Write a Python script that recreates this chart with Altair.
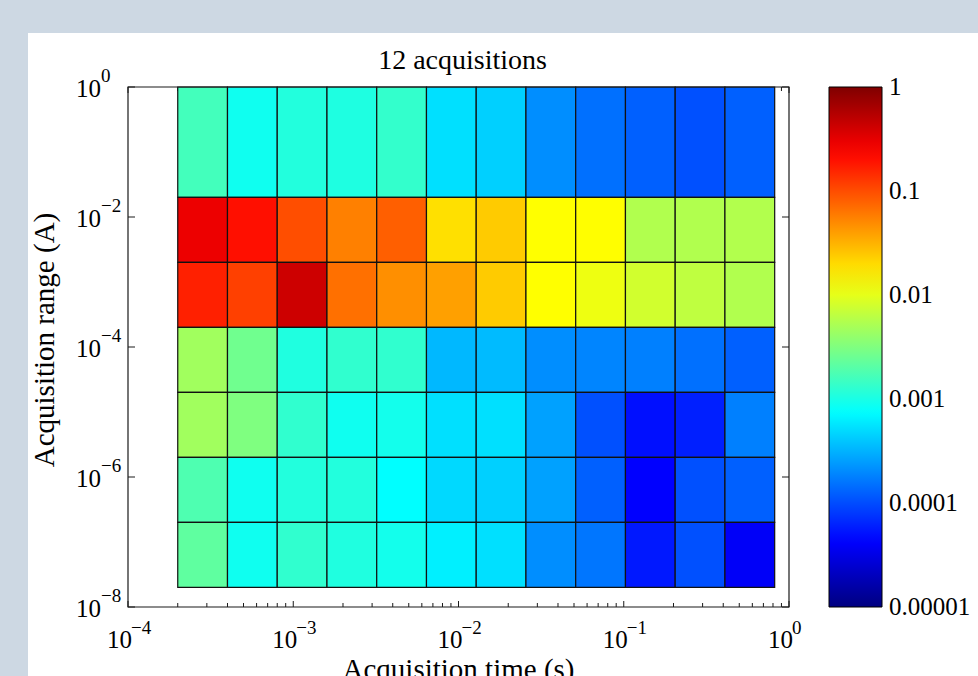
import altair as alt
import pandas as pd

# ---- data -------------------------------------------------------------
# cell edges (acquisition time in s, acquisition range in A)
x_edges = [0.0002, 0.0004, 0.0008, 0.0016, 0.0032, 0.0064, 0.0128,
           0.0256, 0.0512, 0.1024, 0.2048, 0.4096, 0.8192]
y_edges_top_down = [1.0, 2e-2, 2e-3, 2e-4, 2e-5, 2e-6, 2e-7, 2e-8]

# values per row, from the top row down, 12 columns each
row_0 = [1.6e-3, 8.9e-4, 1.1e-3, 1.05e-3, 1.33e-3, 5.3e-4, 4.4e-4, 2.1e-4, 1.5e-4, 1.25e-4, 1.04e-4, 1.25e-4]
row_1 = [0.29, 0.2, 0.098, 0.056, 0.081, 0.019, 0.024, 0.0133, 0.0135, 5.5e-3, 5.5e-3, 5.6e-3]
row_2 = [0.166, 0.115, 0.42, 0.067, 0.047, 0.039, 0.024, 0.0133, 0.011, 7.9e-3, 6.5e-3, 5.5e-3]
row_3 = [4.6e-3, 2.66e-3, 1.07e-3, 1.29e-3, 1.29e-3, 3.35e-4, 3.5e-4, 2.1e-4, 1.9e-4, 1.78e-4, 1.5e-4, 1.25e-4]
row_4 = [4.6e-3, 3.16e-3, 1.29e-3, 8.9e-4, 9.3e-4, 5.3e-4, 5.3e-4, 2.6e-4, 1.04e-4, 5.0e-5, 6.0e-5, 1.78e-4]
row_5 = [1.8e-3, 8.9e-4, 1.1e-3, 1.1e-3, 7.5e-4, 4.9e-4, 4.4e-4, 2.6e-4, 1.25e-4, 4.2e-5, 1.04e-4, 1.25e-4]
row_6 = [2.2e-3, 8.9e-4, 1.29e-3, 1.07e-3, 9.3e-4, 6.3e-4, 5.3e-4, 2.1e-4, 1.6e-4, 5.5e-5, 1.04e-4, 3.9e-5]
rows_top_down = [row_0, row_1, row_2, row_3, row_4, row_5, row_6]

# axis ticks and labels
x_major = [1e-4, 1e-3, 1e-2, 1e-1, 1.0]
x_exponents = ["\u22124", "\u22123", "\u22122", "\u22121", "0"]
x_minor = [m * d for d in [1e-4, 1e-3, 1e-2, 1e-1] for m in [2, 3, 4, 5, 6, 7, 8, 9]]
y_major = [1e-8, 1e-6, 1e-4, 1e-2, 1.0]
y_exponents = ["\u22128", "\u22126", "\u22124", "\u22122", "0"]
cbar_values = [1.0, 1e-1, 1e-2, 1e-3, 1e-4, 1e-5]
cbar_labels = ["1", "0.1", "0.01", "0.001", "0.0001", "0.00001"]
title_text = ["12 acquisitions"]
x_title = ["Acquisition time (s)"]
y_title = ["Acquisition range (A)"]

# jet colour map, stops placed in log space over 1e-5 .. 1
jet_domain = [1e-5, 4.217e-5, 7.499e-4, 0.013335, 0.23714, 1.0]
jet_colors = ["#000080", "#0000ff", "#00ffff", "#ffff00", "#ff0000", "#800000"]

# ---- tables -------------------------------------------------------------
recs = []
for i, row in enumerate(rows_top_down):
    for j, v in enumerate(row):
        recs.append({"x0": x_edges[j], "x1": x_edges[j + 1],
                     "y0": y_edges_top_down[i + 1], "y1": y_edges_top_down[i],
                     "v": v})
cells = pd.DataFrame(recs)
xmaj = pd.DataFrame({"t": x_major, "base": ["10"] * len(x_major), "e": x_exponents})
xmin = pd.DataFrame({"t": x_minor})
ymaj = pd.DataFrame({"t": y_major, "base": ["10"] * len(y_major), "e": y_exponents})
cbl = pd.DataFrame({"c": cbar_values, "lab": cbar_labels})
one = pd.DataFrame({"a": [0]})

W, H = 661, 520
FONT = "Liberation Serif"
INK = "#1a1a1a"
CB_X, CB_W = 701, 53

xscale = alt.Scale(type="log", domain=[1e-4, 1.0], nice=False)
yscale = alt.Scale(type="log", domain=[1e-8, 1.0], nice=False)
cbscale = alt.Scale(type="log", domain=[1e-5, 1.0], nice=False)
cscale = alt.Scale(type="log", domain=jet_domain, range=jet_colors, interpolate="rgb")

# white panel behind the figure
panel = alt.Chart(one).mark_rect(color="white").encode(
    x=alt.value(-100), x2=alt.value(850), y=alt.value(-54), y2=alt.value(H + 80)
)

def xr(df, y_a, y_b):
    return alt.Chart(df).mark_rule(color=INK, strokeWidth=1).encode(
        x=alt.X("t:Q", scale=xscale, axis=None), y=alt.value(y_a), y2=alt.value(y_b)
    )

def yr(df, x_a, x_b):
    return alt.Chart(df).mark_rule(color=INK, strokeWidth=1).encode(
        y=alt.Y("t:Q", scale=yscale, axis=None), x=alt.value(x_a), x2=alt.value(x_b)
    )

ticks = [
    xr(xmaj, H, H - 6), xr(xmin, H, H - 4),
    xr(xmaj, 0, 6), xr(xmin, 0, 4),
    yr(ymaj, 0, 7), yr(ymaj, W, W - 7),
]

heat = alt.Chart(cells).mark_rect(stroke="#111111", strokeWidth=1.2).encode(
    x=alt.X("x0:Q", scale=xscale, axis=None),
    x2="x1:Q",
    y=alt.Y("y0:Q", scale=yscale, axis=None),
    y2="y1:Q",
    color=alt.Color("v:Q", scale=cscale, title=None,
                    legend=alt.Legend(orient="none", legendX=CB_X, legendY=0,
                                      direction="vertical", gradientLength=H,
                                      gradientThickness=CB_W, gradientStrokeColor="black",
                                      gradientStrokeWidth=1, labelOpacity=0,
                                      labelFontSize=1, padding=0)),
)

box = alt.Chart(one).mark_rect(fillOpacity=0, stroke=INK, strokeWidth=1.2).encode(
    x=alt.value(0), x2=alt.value(W), y=alt.value(0), y2=alt.value(H)
)

# colour-bar labels placed with a log scale spanning the colour bar
cb_text = alt.Chart(cbl).mark_text(font=FONT, fontSize=25, align="left",
                                   baseline="middle", color="black").encode(
    y=alt.Y("c:Q", scale=cbscale, axis=None),
    x=alt.value(CB_X + CB_W + 7), text="lab:N")

title = alt.Chart(pd.DataFrame({"txt": title_text})).mark_text(
    font=FONT, fontSize=28, align="center", baseline="alphabetic", color="black"
).encode(x=alt.value(W / 2 + 4), y=alt.value(-18), text="txt:N")

xtitle = alt.Chart(pd.DataFrame({"txt": x_title})).mark_text(
    font=FONT, fontSize=29, align="center", baseline="alphabetic", color="black"
).encode(x=alt.value(W / 2), y=alt.value(H + 72), text="txt:N")

ytitle = alt.Chart(pd.DataFrame({"txt": y_title})).mark_text(
    font=FONT, fontSize=29, align="center", baseline="alphabetic", angle=270, color="black"
).encode(x=alt.value(-74), y=alt.value(H / 2 - 7), text="txt:N")

xl_base = alt.Chart(xmaj).mark_text(font=FONT, fontSize=25, align="right",
                                    baseline="alphabetic", dx=4, color="black").encode(
    x=alt.X("t:Q", scale=xscale, axis=None), y=alt.value(H + 41), text="base:N")
xl_exp = alt.Chart(xmaj).mark_text(font=FONT, fontSize=19, align="left",
                                   baseline="alphabetic", dx=3, color="black").encode(
    x=alt.X("t:Q", scale=xscale, axis=None), y=alt.value(H + 27), text="e:N")
yl_base = alt.Chart(ymaj).mark_text(font=FONT, fontSize=25, align="right",
                                    baseline="alphabetic", dy=10, color="black").encode(
    y=alt.Y("t:Q", scale=yscale, axis=None), x=alt.value(-27), text="base:N")
yl_exp = alt.Chart(ymaj).mark_text(font=FONT, fontSize=19, align="left",
                                   baseline="alphabetic", dy=-5, color="black").encode(
    y=alt.Y("t:Q", scale=yscale, axis=None), x=alt.value(-27), text="e:N")

chart = alt.layer(panel, *ticks, heat, box, title, xtitle, ytitle,
                  xl_base, xl_exp, yl_base, yl_exp, cb_text).resolve_scale(
    y="independent"
).properties(
    width=W, height=H,
    background="#cdd8e3",
    padding={"left": 128, "top": 87, "right": 189, "bottom": 69},
    autosize=alt.AutoSizeParams(type="none"),
).configure_view(strokeOpacity=0)

chart.save("out.html", embed_options={"renderer": "svg", "actions": False})
